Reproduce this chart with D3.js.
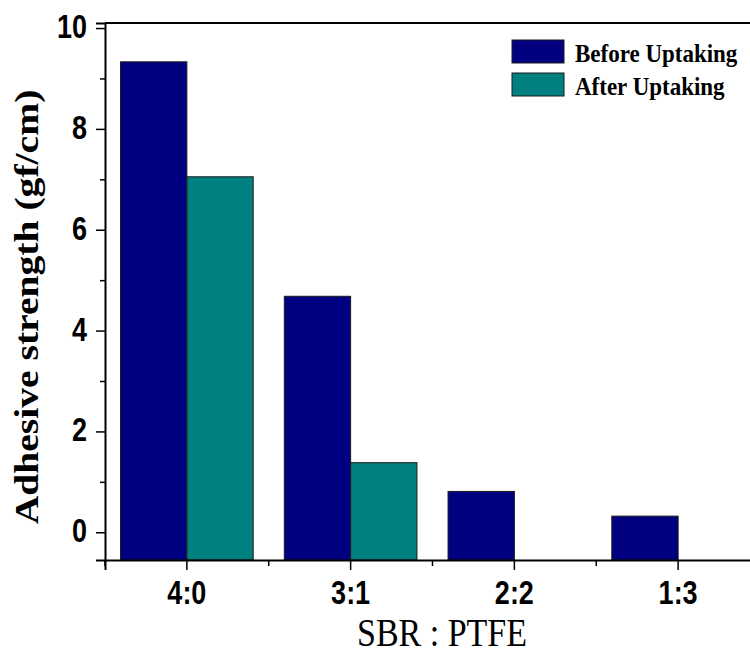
<!DOCTYPE html>
<html>
<head>
<meta charset="utf-8">
<script src="https://cdn.jsdelivr.net/npm/d3@7"></script>
<style>
  body { margin: 0; background: #fff; }
  svg { display: block; }
</style>
</head>
<body>
<svg id="chart" width="750" height="655"></svg>
<script>
// Data
const ratios = ['4:0', '3:1', '2:2', '1:3'];
const before = [9.33, 4.68, 0.81, 0.32];
const after = [7.05, 1.38, null, null];
const seriesNames = ['Before Uptaking', 'After Uptaking'];
const yTicks = [0, 2, 4, 6, 8, 10];
const yMinorTicks = [1, 3, 5, 7, 9];

const colors = ['#000080', '#008080'];

const width = 750, height = 655;
const margin = { top: 23, right: -10, bottom: 95, left: 105 };
// the source figure is stretched vertically, so text is too
const stretch = 1.2;
const sans = 'Liberation Sans, Arial, sans-serif';
const serif = 'Liberation Serif, Times New Roman, serif';

const svg = d3.select('#chart');

const x = d3.scaleBand()
  .domain(ratios)
  .range([margin.left, width - margin.right])
  .paddingInner(0)
  .paddingOuter(0);

const y = d3.scaleLinear()
  .domain([-0.55, 10.1])
  .range([height - margin.bottom, margin.top]);

const barW = x.bandwidth() * 0.405;

// Bars
const series = [before, after];
series.forEach((vals, si) => {
  svg.append('g')
    .selectAll('rect')
    .data(ratios.map((r, i) => ({ r, v: vals[i] })).filter(d => d.v != null))
    .join('rect')
    .attr('x', d => x(d.r) + x.bandwidth() / 2 + (si === 0 ? -barW : 0))
    .attr('width', barW)
    .attr('y', d => y(d.v))
    .attr('height', d => y(y.domain()[0]) - y(d.v))
    .attr('fill', colors[si])
    .attr('stroke', '#1a1a1a')
    .attr('stroke-width', 1);
});

// Y axis
const gy = svg.append('g')
  .attr('transform', `translate(${margin.left},0)`)
  .call(d3.axisLeft(y).tickValues(yTicks).tickSize(9).tickPadding(9).tickFormat(d3.format('d')));
gy.select('.domain').attr('stroke-width', 2);
gy.selectAll('.tick line').attr('stroke-width', 1.5);
gy.selectAll('.tick text')
  .attr('font-family', sans)
  .attr('font-weight', 'bold')
  .attr('font-size', 27)
  .attr('fill', '#000')
  .attr('dy', null)
  .attr('y', 9.5 / stretch)
  .attr('transform', `scale(1,${stretch})`);

svg.append('g')
  .attr('transform', `translate(${margin.left},0)`)
  .call(d3.axisLeft(y).tickValues(yMinorTicks).tickSize(5).tickFormat(''))
  .call(g => g.select('.domain').remove())
  .selectAll('.tick line').attr('stroke-width', 1.5);

// X axis
const gx = svg.append('g')
  .attr('transform', `translate(0,${height - margin.bottom})`)
  .call(d3.axisBottom(x).tickSize(10).tickPadding(10));
gx.select('.domain').attr('stroke-width', 2);
gx.selectAll('.tick line').attr('stroke-width', 1.5);
gx.selectAll('.tick text')
  .attr('font-family', sans)
  .attr('font-weight', 'bold')
  .attr('font-size', 27)
  .attr('fill', '#000')
  .attr('dy', null)
  .attr('y', 44 / stretch)
  .attr('transform', `scale(1,${stretch})`);

// minor x ticks at band edges
svg.append('g')
  .selectAll('line')
  .data(ratios)
  .join('line')
  .attr('x1', d => x(d))
  .attr('x2', d => x(d))
  .attr('y1', height - margin.bottom)
  .attr('y2', height - margin.bottom + 6)
  .attr('stroke', '#000')
  .attr('stroke-width', 1.5);

// top frame
svg.append('line')
  .attr('x1', margin.left).attr('x2', width)
  .attr('y1', margin.top).attr('y2', margin.top)
  .attr('stroke', '#000').attr('stroke-width', 2);

// Axis titles
svg.append('text')
  .attr('transform', `translate(38,307) rotate(-90) scale(${stretch},1)`)
  .attr('text-anchor', 'middle')
  .attr('font-family', serif)
  .attr('font-weight', 'bold')
  .attr('font-size', 33)
  .text('Adhesive strength (gf/cm)');

svg.append('text')
  .attr('transform', `translate(442,646) scale(1,${stretch})`)
  .attr('text-anchor', 'middle')
  .attr('font-family', serif)
  .attr('font-size', 34)
  .text('SBR : PTFE');

// Legend
const legend = svg.append('g').attr('transform', 'translate(512,40)');
seriesNames.forEach((name, i) => {
  const g = legend.append('g').attr('transform', `translate(0,${i * 33})`);
  g.append('rect')
    .attr('width', 52).attr('height', 23)
    .attr('fill', colors[i])
    .attr('stroke', '#1a1a1a').attr('stroke-width', 1);
  g.append('text')
    .attr('transform', `translate(63,22) scale(1,1.1)`)
    .attr('font-family', serif)
    .attr('font-weight', 'bold')
    .attr('font-size', 23)
    .text(name);
});
</script>
</body>
</html>
